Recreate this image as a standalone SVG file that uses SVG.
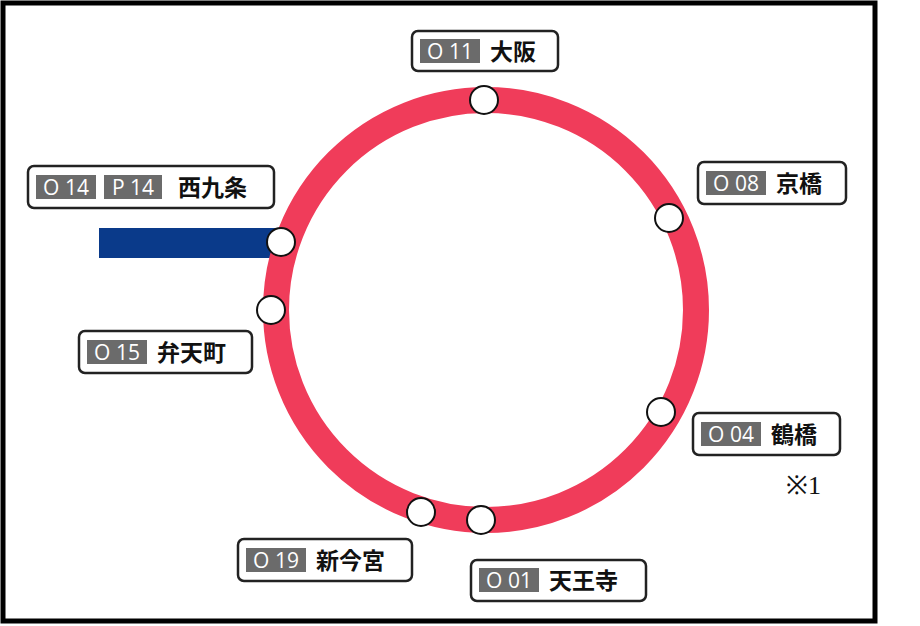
<svg xmlns="http://www.w3.org/2000/svg" width="920" height="626" viewBox="0 0 920 626">
<style>
.box{fill:#fff;stroke:#222;stroke-width:2.5}
.bd{fill:#6b6b6b}
.bt{font-family:"Open Sans","Noto Sans",sans-serif;font-size:21px;fill:#fff;text-anchor:middle}
.nm{font-family:"Noto Sans CJK JP",sans-serif;font-size:23px;font-weight:bold;fill:#111}
.st{fill:#fff;stroke:#111;stroke-width:2}
</style>
<rect x="0" y="0" width="920" height="626" fill="#fff"/>
<rect x="3" y="3" width="872" height="618" fill="none" stroke="#000" stroke-width="5"/>
<g id="connectors">
<rect x="99" y="228" width="181" height="30" fill="#0a3a8a"/>
<circle cx="486" cy="310" r="210" fill="none" stroke="#f03c5a" stroke-width="26"/>
</g>
<g id="stations">
<circle class="st" cx="484" cy="100" r="14"/>
<circle class="st" cx="669" cy="218" r="14"/>
<circle class="st" cx="661" cy="412" r="14"/>
<circle class="st" cx="481" cy="520" r="14"/>
<circle class="st" cx="421" cy="512" r="14"/>
<circle class="st" cx="271" cy="310" r="14"/>
<circle class="st" cx="281" cy="242" r="14"/>
</g>
<g id="n-osaka"><rect class="box" x="412" y="31" width="146" height="40" rx="6"/><rect class="bd" x="420" y="39" width="60" height="24"/><text class="bt" x="450" y="59">O 11</text><text class="nm" x="490" y="60">大阪</text></g>
<g id="n-kyobashi"><rect class="box" x="698" y="162" width="148" height="42" rx="6"/><rect class="bd" x="706" y="171" width="60" height="24"/><text class="bt" x="736" y="191">O 08</text><text class="nm" x="776" y="192">京橋</text></g>
<g id="n-nishikujo"><rect class="box" x="28" y="166" width="246" height="42" rx="6"/><rect class="bd" x="36" y="175" width="60" height="24"/><text class="bt" x="66" y="195">O 14</text><rect class="bd" x="104" y="175" width="58" height="24"/><text class="bt" x="133" y="195">P 14</text><text class="nm" x="178" y="196">西九条</text></g>
<g id="n-bentencho"><rect class="box" x="79" y="331" width="173" height="42" rx="6"/><rect class="bd" x="87" y="340" width="60" height="24"/><text class="bt" x="117" y="360">O 15</text><text class="nm" x="157" y="361">弁天町</text></g>
<g id="n-tsuruhashi"><rect class="box" x="693" y="413" width="147" height="42" rx="6"/><rect class="bd" x="701" y="422" width="60" height="24"/><text class="bt" x="731" y="442">O 04</text><text class="nm" x="771" y="443">鶴橋</text></g>
<text x="786" y="494" font-family="Liberation Serif,serif" font-size="26" fill="#111">※1</text>
<g id="n-shinimamiya"><rect class="box" x="238" y="539" width="174" height="42" rx="6"/><rect class="bd" x="246" y="548" width="60" height="24"/><text class="bt" x="276" y="568">O 19</text><text class="nm" x="316" y="569">新今宮</text></g>
<g id="n-tennoji"><rect class="box" x="471" y="560" width="175" height="41" rx="6"/><rect class="bd" x="479" y="568" width="60" height="24"/><text class="bt" x="509" y="588">O 01</text><text class="nm" x="549" y="589">天王寺</text></g>
</svg>
